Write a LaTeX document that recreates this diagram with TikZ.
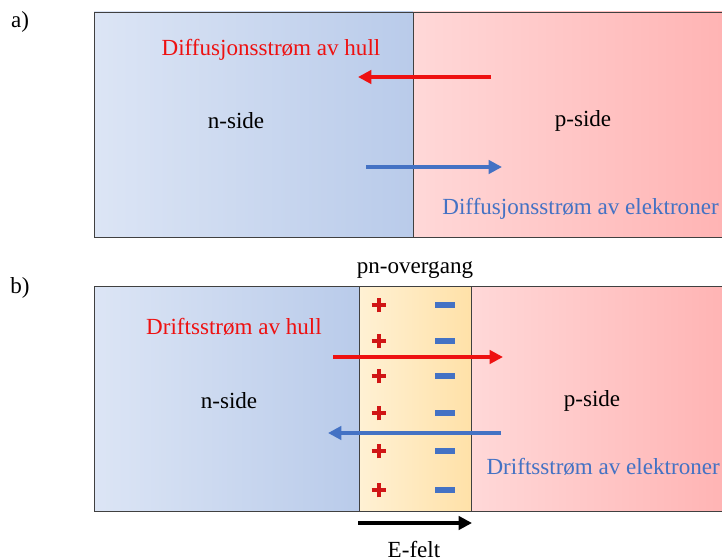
\documentclass[tikz,border=0pt]{standalone}
\usepackage{fontspec}
\setmainfont{Liberation Serif}
\usetikzlibrary{arrows.meta}
\definecolor{nlight}{HTML}{DCE5F5}
\definecolor{ndark}{HTML}{B9CBEA}
\definecolor{plight}{HTML}{FFD8D8}
\definecolor{pdark}{HTML}{FFB3B3}
\definecolor{jlight}{HTML}{FFF1D4}
\definecolor{jdark}{HTML}{FFE1A8}
\definecolor{hullred}{HTML}{EE1111}
\definecolor{elblue}{HTML}{4472C4}
\definecolor{plusred}{HTML}{D01515}
\def\ucolor{hullred}
\def\ycolor{elblue}

\begin{document}
\begin{tikzpicture}[x=0.75pt, y=-0.75pt,
  every node/.style={font=\fontsize{17.3}{20}\selectfont, inner sep=0pt},
  border/.style={draw=black!75, line width=0.7pt},
  nregion/.style={left color=nlight, right color=ndark},
  pregion/.style={left color=plight, right color=pdark},
  jregion/.style={left color=jlight, right color=jdark},
  current/.style={line width=3pt, -{Triangle[length=10pt, width=10pt]}},
  plussign/.style={plusred, line width=3.4pt},
  minussign/.style={elblue, line width=3.8pt}]

  \useasboundingbox (0,0) rectangle (722,560);
  \clip (0,0) rectangle (722,560);

  % a) diffusjon
  \shade[nregion] (94,12) rectangle (413,237);
  \shade[pregion] (413,12) rectangle (730,237);
  \draw[border] (730,12) -- (94,12) -- (94,237) -- (730,237);
  \draw[border] (413,12) -- (413,237);

  \node (labela) at (20,22) {a)};
  \node[text=\ucolor] (diffhull) at (271,50) {Diffusjonsstrøm av hull};
  \node (nsidea) at (236,121) {n-side};
  \node (psidea) at (583,121) {p-side};
  \node[text=\ycolor, anchor=east] (diffel) at (719,209) {Diffusjonsstrøm av elektroner};

  \coordinate (hullstart) at (491,77);
  \coordinate (hullend) at (358,77);
  \coordinate (elstart) at (366,167);
  \coordinate (elend) at (502,167);
  \draw[current, \ucolor] (hullstart) -- (hullend);
  \draw[current, \ycolor] (elstart) -- (elend);

  % b) drift
  \shade[nregion] (94,286) rectangle (359,511);
  \shade[jregion] (359,286) rectangle (471,511);
  \shade[pregion] (471,286) rectangle (730,511);
  \draw[border] (730,286) -- (94,286) -- (94,511) -- (730,511);
  \draw[border] (359,286) -- (359,511) (471,286) -- (471,511);

  \node (labelb) at (20,288) {b)};
  \node (junction) at (415,270) {pn-overgang};
  \node[text=\ucolor] (drifthull) at (234,327) {Driftsstrøm av hull};
  \node (nsideb) at (229,401) {n-side};
  \node (psideb) at (592,401) {p-side};
  \node[text=\ycolor, anchor=east] (driftel) at (720,467) {Driftsstrøm av elektroner};

  \foreach \y [count=\i] in {305,341,376,413,451,490} {
    \coordinate (plus\i) at (379,\y);
    \coordinate (minus\i) at (445,\y);
    \draw[plussign] ([xshift=-5.5pt]plus\i) -- ([xshift=5.5pt]plus\i)
                    ([yshift=-5.5pt]plus\i) -- ([yshift=5.5pt]plus\i);
    \draw[minussign] ([xshift=-7.5pt]minus\i) -- ([xshift=7.5pt]minus\i);
  }

  \coordinate (drifthstart) at (333,357);
  \coordinate (drifthend) at (503,357);
  \coordinate (drifteistart) at (501,433);
  \coordinate (drifteiend) at (328,433);
  \draw[current, \ucolor] (drifthstart) -- (drifthend);
  \draw[current, \ycolor] (drifteistart) -- (drifteiend);

  \coordinate (fieldstart) at (358,523);
  \coordinate (fieldend) at (472,523);
  \draw[current, black, line width=3.6pt] (fieldstart) -- (fieldend);
  \node (efelt) at (414,549) {E-felt};
\end{tikzpicture}
\end{document}
